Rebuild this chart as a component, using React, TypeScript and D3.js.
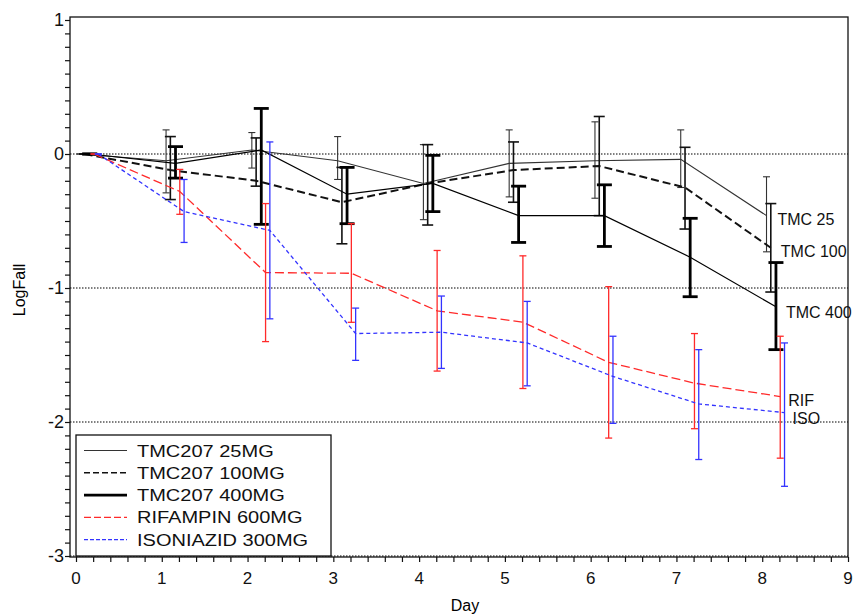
import React, { useEffect, useRef } from "react";
import * as d3 from "d3";

// day numbers, the points of each group are shifted a bit to the right
const days = [0, 1, 2, 3, 4, 5, 6, 7, 8];

// TMC207 25MG
const tmc25Mean = [0, -0.05, 0.03, -0.05, -0.22, -0.07, -0.05, -0.04, -0.46];
const tmc25Lo = [0, -0.29, -0.105, -0.19, -0.49, -0.32, -0.33, -0.25, -0.73];
const tmc25Hi = [0, 0.18, 0.16, 0.13, 0.07, 0.18, 0.24, 0.18, -0.17];

// TMC207 100MG
const tmc100Mean = [0, -0.12, -0.2, -0.36, -0.22, -0.12, -0.09, -0.25, -0.7];
const tmc100Lo = [0, -0.34, -0.24, -0.67, -0.53, -0.36, -0.46, -0.56, -1.03];
const tmc100Hi = [0, 0.13, 0.12, -0.1, 0.07, 0.09, 0.28, 0.05, -0.37];

// TMC207 400MG
const tmc400Mean = [0, -0.07, 0.03, -0.3, -0.22, -0.46, -0.46, -0.77, -1.14];
const tmc400Lo = [0, -0.18, -0.525, -0.52, -0.43, -0.66, -0.69, -1.065, -1.46];
const tmc400Hi = [0, 0.055, 0.34, -0.1, -0.01, -0.24, -0.23, -0.48, -0.81];

// RIFAMPIN 600MG
const rifMean = [0, -0.28, -0.885, -0.89, -1.17, -1.255, -1.555, -1.71, -1.81];
const rifLo = [0, -0.45, -1.4, -1.256, -1.62, -1.75, -2.12, -2.05, -2.27];
const rifHi = [0, -0.115, -0.37, -0.52, -0.72, -0.76, -0.99, -1.34, -1.36];

// ISONIAZID 300MG
const isoMean = [0, -0.43, -0.57, -1.34, -1.33, -1.41, -1.66, -1.865, -1.93];
const isoLo = [0, -0.66, -1.23, -1.54, -1.6, -1.73, -2.01, -2.28, -2.48];
const isoHi = [0, -0.19, 0.09, -1.15, -1.06, -1.1, -1.36, -1.46, -1.41];

const yMajor = [1, 0, -1, -2, -3];
const xMajor = [0, 1, 2, 3, 4, 5, 6, 7, 8, 9];
const refLines = [0, -1, -2, -3];

const series = [
  { legend: "TMC207 25MG", tag: "TMC 25", mean: tmc25Mean, lo: tmc25Lo, hi: tmc25Hi,
    shift: 0.05, color: "#333", lw: 1.1, dash: null, bw: 1.1, cap: 7, lgW: 1.1, lgDash: null, tdx: 11, tdy: 9 },
  { legend: "TMC207 100MG", tag: "TMC 100", mean: tmc100Mean, lo: tmc100Lo, hi: tmc100Hi,
    shift: 0.1, color: "#111", lw: 2, dash: "8,4", bw: 1.6, cap: 11, lgW: 1.4, lgDash: "6,3", tdx: 10, tdy: 9 },
  { legend: "TMC207 400MG", tag: "TMC 400", mean: tmc400Mean, lo: tmc400Lo, hi: tmc400Hi,
    shift: 0.16, color: "#000", lw: 1.2, dash: null, bw: 2.8, cap: 15, lgW: 2.6, lgDash: null, tdx: 10, tdy: 11 },
  { legend: "RIFAMPIN 600MG", tag: "RIF", mean: rifMean, lo: rifLo, hi: rifHi,
    shift: 0.21, color: "#ff2a2a", lw: 1.3, dash: "9,4", bw: 1.3, cap: 7, lgW: 1.2, lgDash: "7,3", tdx: 8, tdy: 9 },
  { legend: "ISONIAZID 300MG", tag: "ISO", mean: isoMean, lo: isoLo, hi: isoHi,
    shift: 0.26, color: "#3333ff", lw: 1.3, dash: "4,3", bw: 1.3, cap: 7, lgW: 1.2, lgDash: "4,2", tdx: 8, tdy: 11 },
];

const W = 853;
const H = 615;
const font = "'Liberation Sans', Arial, sans-serif";

const App = () => {
  const ref = useRef<SVGSVGElement>(null);

  useEffect(() => {
    const svg = d3.select(ref.current);
    svg.selectAll("*").remove();

    const x = d3.scaleLinear().domain([0, 9]).range([76, 848]);
    const y = d3.scaleLinear().domain([1, -3]).range([20, 556]);
    const frame = { left: 70, top: 17, right: 848, bottom: 557 };

    svg.append("rect")
      .attr("width", W).attr("height", H).attr("fill", "#fff");

    // dotted reference lines
    svg.selectAll("line.ref")
      .data(refLines)
      .enter()
      .append("line")
      .attr("x1", frame.left).attr("x2", frame.right)
      .attr("y1", d => y(d)).attr("y2", d => y(d))
      .attr("stroke", "#000")
      .attr("stroke-width", 1.2)
      .attr("stroke-dasharray", "1.5,1.5");

    // frame
    svg.append("rect")
      .attr("x", frame.left).attr("y", frame.top)
      .attr("width", frame.right - frame.left)
      .attr("height", frame.bottom - frame.top)
      .attr("fill", "none")
      .attr("stroke", "#111")
      .attr("stroke-width", 1.3);

    // x axis ticks
    const xAxis = svg.append("g")
      .attr("transform", `translate(0, ${frame.bottom})`)
      .call(d3.axisBottom(x).tickValues(d3.range(0, 46).map(i => i / 5)).tickSize(5).tickFormat(() => ""));
    xAxis.select(".domain").remove();
    xAxis.selectAll("line").attr("stroke", "#111").attr("stroke-width", 1.2);

    svg.selectAll("text.xt")
      .data(xMajor)
      .enter()
      .append("text")
      .attr("x", d => x(d))
      .attr("y", 584)
      .attr("text-anchor", "middle")
      .style("font-family", font)
      .style("font-size", "17px")
      .attr("fill", "#111")
      .text(d => d);

    // y axis ticks
    const yAxis = svg.append("g")
      .attr("transform", `translate(${frame.left}, 0)`)
      .call(d3.axisLeft(y).tickValues(d3.range(0, 41).map(i => 1 - i / 10)).tickSize(5).tickFormat(() => ""));
    yAxis.select(".domain").remove();
    yAxis.selectAll("line").attr("stroke", "#111").attr("stroke-width", 1.2);

    svg.selectAll("text.yt")
      .data(yMajor)
      .enter()
      .append("text")
      .attr("x", 64)
      .attr("y", d => y(d) + 6)
      .attr("text-anchor", "end")
      .style("font-family", font)
      .style("font-size", "18px")
      .attr("fill", "#111")
      .text(d => d);

    svg.append("text")
      .attr("transform", "translate(25, 290) rotate(-90)")
      .attr("text-anchor", "middle")
      .style("font-family", font)
      .style("font-size", "16px")
      .text("LogFall");

    svg.append("text")
      .attr("x", 465).attr("y", 611)
      .attr("text-anchor", "middle")
      .style("font-family", font)
      .style("font-size", "16px")
      .text("Day");

    const line = d3.line<number>()
      .x((_, i) => x(days[i]))
      .y(d => y(d));

    series.forEach(s => {
      const px = (i: number) => x(days[i] + s.shift);

      svg.append("path")
        .datum(s.mean)
        .attr("d", line.x((_, i) => px(i)))
        .attr("fill", "none")
        .attr("stroke", s.color)
        .attr("stroke-width", s.lw)
        .attr("stroke-dasharray", s.dash);

      const bars = svg.append("g");
      days.forEach((_, i) => {
        bars.append("line")
          .attr("x1", px(i)).attr("x2", px(i))
          .attr("y1", y(s.lo[i])).attr("y2", y(s.hi[i]))
          .attr("stroke", s.color)
          .attr("stroke-width", s.bw);
        [s.lo[i], s.hi[i]].forEach(v => {
          bars.append("line")
            .attr("x1", px(i) - s.cap / 2).attr("x2", px(i) + s.cap / 2)
            .attr("y1", y(v)).attr("y2", y(v))
            .attr("stroke", s.color)
            .attr("stroke-width", s.bw);
        });
      });

      // tag at the last point
      const last = days.length - 1;
      svg.append("text")
        .attr("x", px(last) + s.tdx)
        .attr("y", y(s.mean[last]) + s.tdy)
        .style("font-family", font)
        .style("font-size", "16px")
        .attr("fill", "#111")
        .text(s.tag);
    });

    // legend
    const lg = svg.append("g");
    lg.append("rect")
      .attr("x", 76).attr("y", 435)
      .attr("width", 255).attr("height", 121)
      .attr("fill", "#fff")
      .attr("stroke", "#111")
      .attr("stroke-width", 1.3);

    series.forEach((s, i) => {
      const cy = 450.5 + i * 22.3;
      lg.append("line")
        .attr("x1", 84).attr("x2", 127)
        .attr("y1", cy).attr("y2", cy)
        .attr("stroke", s.color)
        .attr("stroke-width", s.lgW)
        .attr("stroke-dasharray", s.lgDash);
      lg.append("text")
        .attr("transform", `translate(137, ${cy + 6}) scale(1.25, 1)`)
        .style("font-family", font)
        .style("font-size", "16px")
        .attr("fill", "#111")
        .text(s.legend);
    });
  }, []);

  return (
    <svg
      ref={ref}
      width={W}
      height={H}
      style={{ position: "absolute", left: 0, top: 0 }}
    ></svg>
  );
};

export default App;
